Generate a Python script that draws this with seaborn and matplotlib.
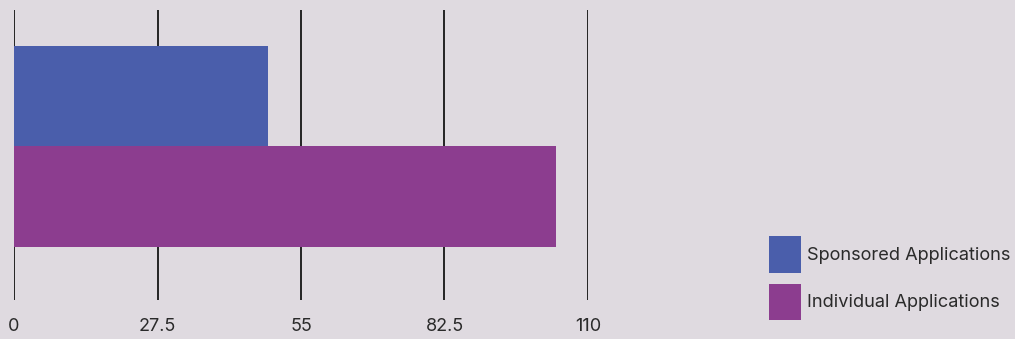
import matplotlib
matplotlib.use("Agg")
import matplotlib.pyplot as plt
from matplotlib.patches import Patch
import seaborn as sns
import pandas as pd

categories = ["Applications"]
series = ["Sponsored Applications", "Individual Applications"]
values = [48.6, 103.8]
colors = ["#4a5eab", "#8c3d8f"]
xticks = [0, 27.5, 55, 82.5, 110]
xtick_labels = ["0", "27.5", "55", "82.5", "110"]

bg = "#dfdae0"
sns.set_theme(style="white")
plt.rcParams["font.family"] = ["Inter", "DejaVu Sans"]

df = pd.DataFrame({"cat": categories * len(series), "series": series, "value": values})

W, H = 1015, 339
fig = plt.figure(figsize=(W / 100, H / 100), dpi=100, facecolor=bg)
ax = fig.add_axes([14 / W, 1 - 300 / H, 574 / W, 290 / H])
ax.set_facecolor(bg)

sns.barplot(data=df, y="cat", x="value", hue="series", palette=colors,
            orient="h", width=0.8, saturation=1, ax=ax, zorder=3, legend=False,
            linewidth=0, edgecolor="none")

ax.set_xlim(0, 110)
ax.set_ylim(0.611, -0.543)
ax.set_xticks(xticks)
ax.set_xticklabels(xtick_labels, fontsize=13, color="#2a2a2a")
ax.set_yticks([])
ax.set_xlabel("")
ax.set_ylabel("")
for s in ax.spines.values():
    s.set_visible(False)
ax.grid(axis="x", color="#151515", linewidth=1.3, zorder=0)
ax.set_axisbelow(True)
ax.tick_params(axis="x", length=0, pad=13)

handles = [Patch(facecolor=c, edgecolor="none", linewidth=0) for c in colors]
ax.legend(handles, series, loc="lower right", bbox_to_anchor=(1010 / W, 19 / H),
          bbox_transform=fig.transFigure, frameon=False,
          prop={"size": 13.1},
          handlelength=1.75, handleheight=2.7, labelspacing=0.6,
          handletextpad=0.3, borderaxespad=0, borderpad=0,
          labelcolor="#2a2a2a")

fig.savefig("out.png", dpi=100, facecolor=bg)
